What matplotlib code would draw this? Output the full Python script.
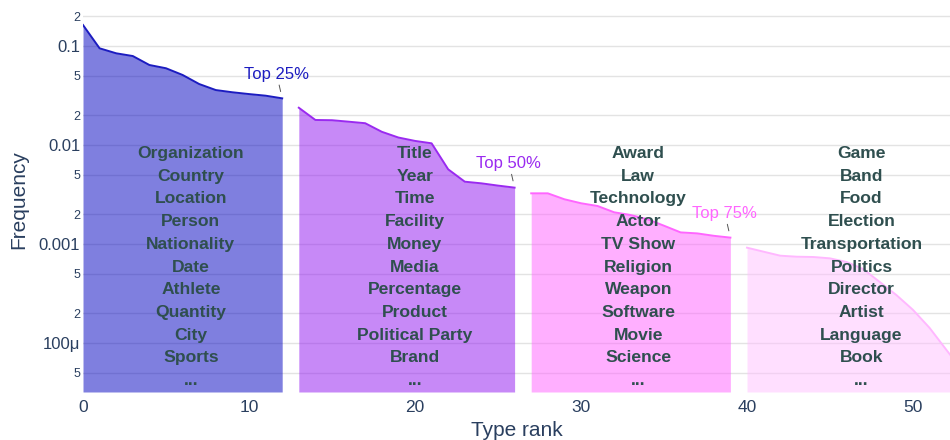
import numpy as np
import matplotlib
matplotlib.use("Agg")
import matplotlib.pyplot as plt

plt.rcParams['font.family'] = ['Liberation Sans', 'DejaVu Sans']

# ranks and frequencies of the four quartile groups
rank1 = list(range(0, 13))
freq1 = [0.163, 0.0948, 0.0844, 0.0792, 0.0643, 0.0596, 0.0510, 0.0413, 0.0359,
         0.0341, 0.0327, 0.0315, 0.0296]
rank2 = list(range(13, 27))
freq2 = [0.0238, 0.0179, 0.0178, 0.0172, 0.0166, 0.0136, 0.0119, 0.0110, 0.0104,
         0.00568, 0.00426, 0.0041, 0.00389, 0.00371]
rank3 = list(range(27, 40))
freq3 = [0.00325, 0.00325, 0.00283, 0.00258, 0.00242, 0.00209, 0.00196, 0.00178,
         0.00153, 0.00131, 0.00128, 0.00121, 0.00116]
rank4 = list(range(40, 54))
freq4 = [0.000918, 0.000836, 0.000762, 0.000744, 0.000739, 0.000716, 0.000658,
         0.000558, 0.000413, 0.000305, 0.000216, 0.000142, 8.57e-5, 5.2e-5]

labels1 = ['Organization', 'Country', 'Location', 'Person', 'Nationality', 'Date',
           'Athlete', 'Quantity', 'City', 'Sports', '...']
labels2 = ['Title', 'Year', 'Time', 'Facility', 'Money', 'Media', 'Percentage',
           'Product', 'Political Party', 'Brand', '...']
labels3 = ['Award', 'Law', 'Technology', 'Actor', 'TV Show', 'Religion', 'Weapon',
           'Software', 'Movie', 'Science', '...']
labels4 = ['Game', 'Band', 'Food', 'Election', 'Transportation', 'Politics',
           'Director', 'Artist', 'Language', 'Book', '...']
label_x = [6.5, 20, 33.45, 46.9]
top_names = ['Top 25%', 'Top 50%', 'Top 75%']

fill_cols = ['#0101c1', '#9115f1', '#ff61ff', '#ffc1ff']
line_cols = ['#1c1cc0', '#9a2af0', '#ff66ff', '#ffb8ff']
ink = '#2a3f5f'

fig = plt.figure(figsize=(9.5, 4.4), dpi=100)
ax = fig.add_axes([83 / 950, 48 / 440, 867 / 950, 384 / 440])
ax.set_yscale('log')
ymin, ymax = 10 ** -4.495, 10 ** -0.616
ax.set_ylim(ymin, ymax)
ax.set_xlim(0, 867 / 16.6)

groups = [(rank1, freq1), (rank2, freq2), (rank3, freq3), (rank4, freq4)]
for i, (r, f) in enumerate(groups):
    ax.fill_between(r, f, ymin, color=fill_cols[i], alpha=0.5, lw=0, zorder=2)
    ax.plot(r, f, color=line_cols[i], lw=1.4, zorder=3)

# "Top x%" annotations at the end of the first three groups
for i, name in enumerate(top_names):
    r, f = groups[i]
    ax.annotate(name, xy=(r[-1], f[-1]), xytext=(-4.3, 17.5),
                textcoords='offset points', ha='center', va='center',
                fontsize=12, color=line_cols[i], zorder=5)
    ax.annotate('', xy=(r[-1], f[-1]), xytext=(-2.2, 9.6),
                textcoords='offset points',
                arrowprops=dict(arrowstyle='-', color='#555555', lw=0.7,
                                shrinkA=0, shrinkB=5), zorder=5)

for x, labs in zip(label_x, [labels1, labels2, labels3, labels4]):
    ax.text(x, 0.3255, '\n'.join(labs), transform=ax.get_xaxis_transform(),
            ha='center', va='center', fontsize=12.6, fontweight='bold',
            color='#2f4f4f', linespacing=1.64, zorder=6)

# axes styling
major = [1e-1, 1e-2, 1e-3, 1e-4]
major_lab = ['0.1', '0.01', '0.001', '100\u03bc']
minor = [2e-1, 5e-2, 2e-2, 5e-3, 2e-3, 5e-4, 2e-4, 5e-5]
minor_lab = ['2', '5', '2', '5', '2', '5', '2', '5']
ax.set_yticks(major, major_lab)
ax.set_yticks(minor, minor_lab, minor=True)
ax.tick_params(axis='y', which='major', length=0, pad=2, labelsize=12, labelcolor=ink)
ax.tick_params(axis='y', which='minor', length=0, pad=2, labelsize=9, labelcolor=ink)
ax.set_xticks([0, 10, 20, 30, 40, 50])
ax.tick_params(axis='x', length=0, pad=6, labelsize=12.5, labelcolor=ink)
ax.grid(axis='y', which='both', color='#e3e3e3', lw=1)
ax.set_axisbelow(True)
for s in ax.spines.values():
    s.set_visible(False)

ax.set_xlabel('Type rank', fontsize=15, color=ink)
ax.xaxis.set_label_coords(0.5, -0.075)
ax.set_ylabel('Frequency', fontsize=15, color=ink)
ax.yaxis.set_label_coords(-0.063, 0.5)

fig.savefig('out.png', dpi=100)
